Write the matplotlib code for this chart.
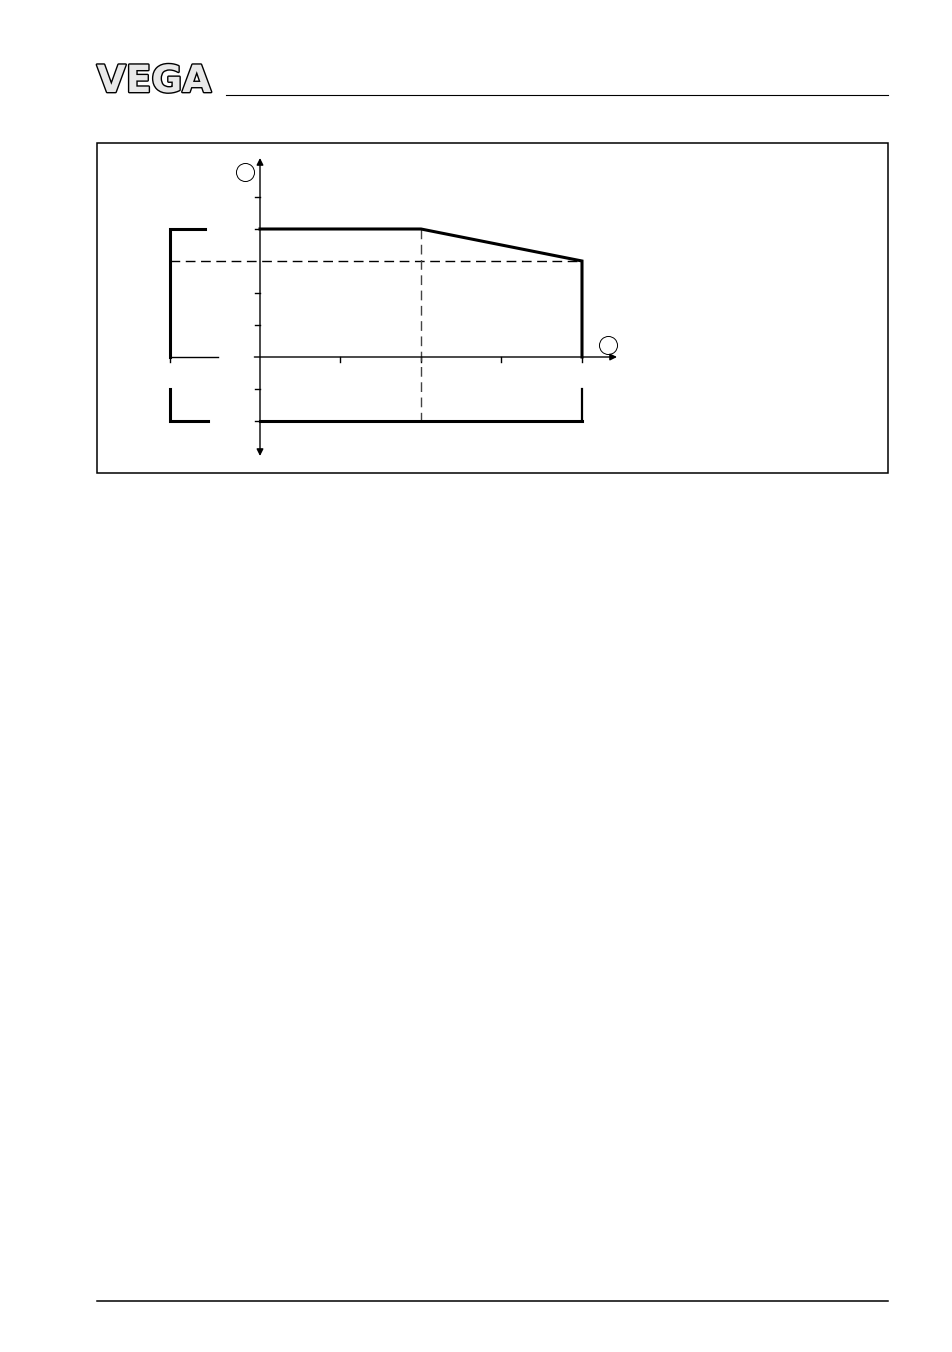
import numpy as np
import matplotlib
matplotlib.use("Agg")
import matplotlib.pyplot as plt
from matplotlib.patches import Rectangle
import matplotlib.patheffects as pe

# Datos de la curva (unidades de la gráfica)
curva_x = [0, 2, 4, 4]
curva_y = [4, 4, 3, 0]
inferior_x = [0, 4]
inferior_y = [-2, -2]
ticks_x = [1, 2, 3, 4]
ticks_y = [5, 4, 2, 1, -1, -2]
limite_x = 2      # línea discontinua vertical
limite_y = 3      # línea discontinua horizontal
borde_izq = -1.12  # corchete de la izquierda

W, H = 953, 1352
fig = plt.figure(figsize=(W / 100, H / 100), dpi=100)

# Página (coordenadas en píxeles)
pag = fig.add_axes([0, 0, 1, 1])
pag.set_xlim(0, W)
pag.set_ylim(H, 0)
pag.axis("off")
pag.add_patch(Rectangle((97, 142.5), 791, 330.5, fill=False, lw=1.1, ec="black"))
pag.plot([226, 888], [95, 95], color="black", lw=0.8)
pag.plot([97, 888], [1301, 1301], color="black", lw=1.1)
pag.text(154, 82, "VEGA", fontsize=27, fontweight="bold", color="#e8e8e8",
         ha="center", va="center",
         path_effects=[pe.Stroke(linewidth=2.0, foreground="black"), pe.Normal()])

# Gráfica
px0, px1, py0, py1 = 150, 640, 150, 465
ax = fig.add_axes([px0 / W, 1 - py1 / H, (px1 - px0) / W, (py1 - py0) / H])
ax.set_xlim((px0 - 260) / 80.5, (px1 - 260) / 80.5)
ax.set_ylim((357 - py1) / 32, (357 - py0) / 32)
ax.axis("off")

grueso = 2.2
fino = 1.0

# Ejes con flechas
ax.annotate("", xy=(0, (357 - 158) / 32), xytext=(0, (357 - 456) / 32),
            arrowprops=dict(arrowstyle="<|-|>", color="black", lw=fino,
                            mutation_scale=10, shrinkA=0, shrinkB=0))
ax.annotate("", xy=((617 - 260) / 80.5, 0), xytext=(-0.07, 0),
            arrowprops=dict(arrowstyle="-|>", color="black", lw=fino,
                            mutation_scale=10, shrinkA=0, shrinkB=0))
ax.plot([borde_izq, -0.52], [0, 0], color="black", lw=fino)

# Marcas de los ejes
for t in ticks_y:
    ax.plot([-5 / 80.5, 0], [t, t], color="black", lw=fino)
for t in ticks_x + [borde_izq]:
    ax.plot([t, t], [0, -5 / 32], color="black", lw=fino)

# Líneas discontinuas
ax.plot([borde_izq, 4], [limite_y, limite_y], color="black", lw=fino,
        dashes=(7, 4))
ax.plot([limite_x, limite_x], [4, -2], color="#444444", lw=fino,
        dashes=(7, 4))

# Curvas
ax.plot(curva_x, curva_y, color="black", lw=grueso, solid_joinstyle="miter")
ax.plot(inferior_x, inferior_y, color="black", lw=grueso)
ax.plot([4, 4], [-1, -2], color="black", lw=1.6)

# Corchetes de la izquierda
ax.plot([-0.68, borde_izq, borde_izq], [4, 4, 0], color="black", lw=grueso,
        solid_joinstyle="miter")
ax.plot([borde_izq, borde_izq, -0.65], [-1, -2, -2], color="black", lw=grueso,
        solid_joinstyle="miter")

# Círculos de referencia
ax.plot([(245 - 260) / 80.5, (608 - 260) / 80.5],
        [(357 - 172) / 32, (357 - 345) / 32],
        "o", ms=13, mfc="none", mec="black", mew=0.7)

fig.savefig("out.png", dpi=100)
